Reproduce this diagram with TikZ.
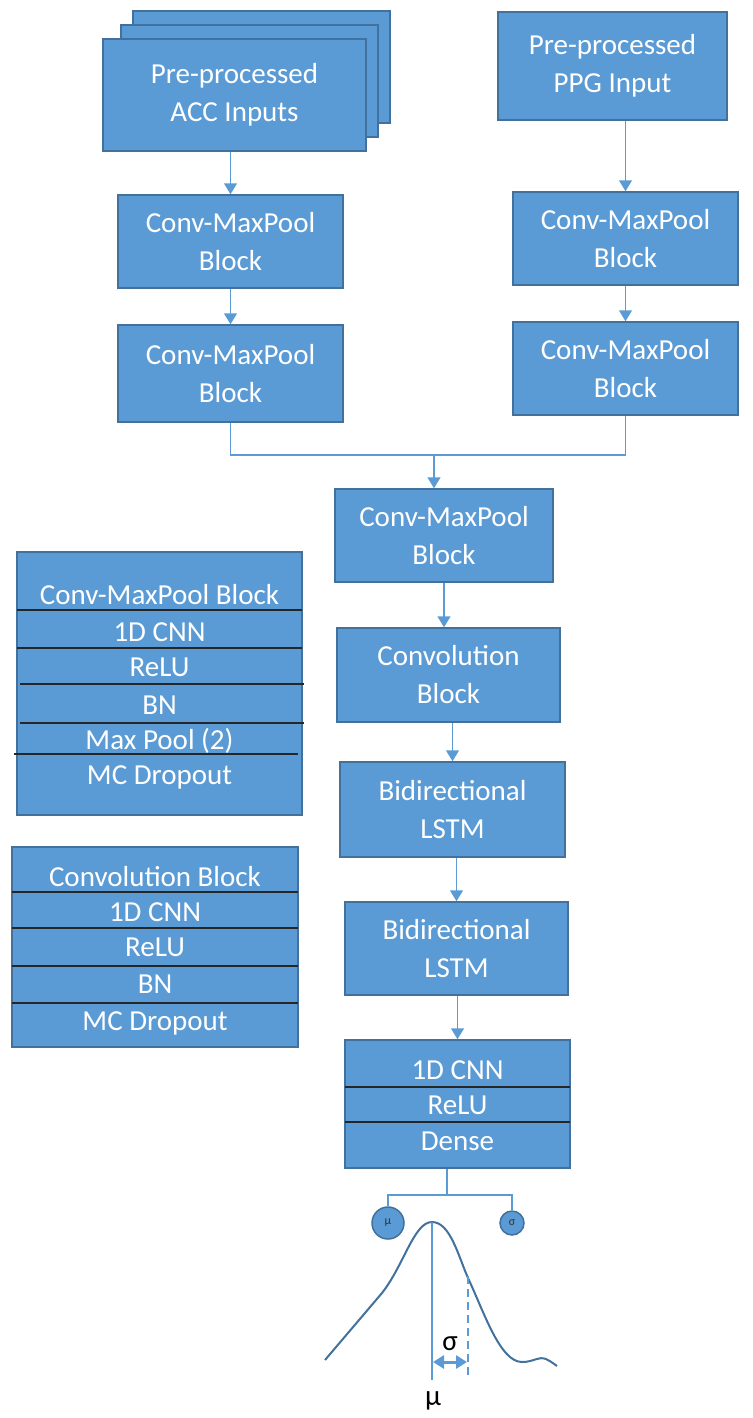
\documentclass[tikz,border=0pt]{standalone}
\usepackage{fontspec}
\setmainfont{Carlito}
\usetikzlibrary{positioning, arrows.meta}

\definecolor{boxblue}{HTML}{5B9BD5}
\definecolor{edgeblue}{HTML}{41719C}

\begin{document}
\begin{tikzpicture}[
            x=1pt, y=-1pt,
            >={Triangle[width=13pt,length=11pt]},
            block/.style={draw=edgeblue, line width=1.5pt, fill=boxblue, text=white, align=center, inner sep=0pt, font=\fontsize{29}{38}\selectfont},
            rowtext/.style={text=white, inner sep=0pt, text height=19pt, text depth=0pt, font=\fontsize{29}{34}\selectfont},
            wire/.style={draw=boxblue, line width=1.5pt},
            flow/.style={wire, ->},
            sep/.style={draw=black!85, line width=1.2pt},
            param/.style={circle, draw=edgeblue, line width=1.5pt, fill=boxblue, inner sep=0pt, text=black!80, font=\fontsize{12}{12}\selectfont}
        ]
        \useasboundingbox (0,0) rectangle (752,1418);

        % ======================================
        % Input branches
        % ======================================
        % ACC: three stacked sheets
        \node[block, minimum width=257pt, minimum height=112pt] (acc3) at (261.5,67) {};
        \node[block, minimum width=257pt, minimum height=112pt] (acc2) at (249.5,81) {};
        \node[block, minimum width=263pt, minimum height=112pt] (acc1) at (234.5,95) {Pre-processed\\ACC Inputs};
        \node[block, minimum width=225pt, minimum height=93pt] (accA) at (230.5,241.5) {Conv-MaxPool\\Block};
        \node[block, minimum width=225pt, minimum height=97pt] (accB) at (230.5,373.5) {Conv-MaxPool\\Block};

        % PPG
        \node[block, minimum width=229pt, minimum height=108pt] (ppg) at (612.5,66) {Pre-processed\\PPG Input};
        \node[block, minimum width=225pt, minimum height=93pt] (ppgA) at (625.5,238.5) {Conv-MaxPool\\Block};
        \node[block, minimum width=225pt, minimum height=93pt] (ppgB) at (625.5,368.5) {Conv-MaxPool\\Block};

        \draw[flow] (accA.north |- acc1.south) -- (accA.north);
        \draw[flow] (accA.south) -- (accA.south |- accB.north);
        \draw[flow] (ppgA.north |- ppg.south) -- (ppgA.north);
        \draw[flow] (ppgB.north |- ppgA.south) -- (ppgB.north);

        % ======================================
        % Shared trunk
        % ======================================
        \node[block, minimum width=218pt, minimum height=93pt] (midA) at (444,535.5) {Conv-MaxPool\\Block};
        \node[block, minimum width=223pt, minimum height=94pt] (midB) at (448.5,675) {Convolution\\Block};
        \node[block, minimum width=225pt, minimum height=95pt] (midC) at (452.5,809.5) {Bidirectional\\LSTM};
        \node[block, minimum width=223pt, minimum height=93pt] (midD) at (456.5,948.5) {Bidirectional\\LSTM};
        \node[block, minimum width=225pt, minimum height=128pt] (outE) at (457.5,1104) {};

        % merge of both branches
        \coordinate (join) at (434,455);
        \draw[wire] (accB.south) |- (join) -| (ppgB.south);
        \draw[flow] (join) -- (join |- midA.north);

        \draw[flow] (midA.south) -- (midA.south |- midB.north);
        \draw[flow] (midC.north |- midB.south) -- (midC.north);
        \draw[flow] (midD.north |- midC.south) -- (midD.north);
        \draw[flow] (outE.north |- midD.south) -- (outE.north);

        % output head rows
        \draw[sep] (345,1087) -- (570,1087);
        \draw[sep] (345,1122) -- (570,1122);
        \foreach \t/\y [count=\i] in {1D CNN/1070, ReLU/1105, Dense/1141}
        \node[rowtext] (out-\i) at (457.5,\y) {\t};

        % ======================================
        % Legend blocks
        % ======================================
        \node[block, minimum width=285pt, minimum height=263pt] (cmpkey) at (159.5,683.5) {};
        \foreach \a/\b/\y in {17/302/610, 17/302/648, 20/304/684, 20/304/723, 14/298/754}
        \draw[sep] (\a,\y) -- (\b,\y);
        \foreach \t/\y [count=\i] in {Conv-MaxPool Block/595, 1D CNN/632, ReLU/667, BN/705, Max Pool (2)/740, MC Dropout/775}
        \node[rowtext] (cmp-\i) at (159.5,\y) {\t};

        \node[block, minimum width=286pt, minimum height=200pt] (convkey) at (155,947) {};
        \foreach \y in {892,928,966,1003}
        \draw[sep] (12,\y) -- (298,\y);
        \foreach \t/\y [count=\i] in {Convolution Block/877, 1D CNN/912, ReLU/947, BN/984, MC Dropout/1021}
        \node[rowtext] (conv-\i) at (155,\y) {\t};

        % ======================================
        % Gaussian output
        % ======================================
        \node[param, minimum size=32pt] (mu) at (388,1223) {μ};
        \node[param, minimum size=24pt] (sigma) at (512,1223) {σ};
        \coordinate (fork) at (447,1195);
        \draw[wire] (outE.south -| fork) -- (fork);
        \draw[wire] (mu.north) |- (fork) -| (sigma.north);

        \coordinate (peak) at (432,1222);
        \draw[edgeblue, line width=2pt, line join=round]
            (325,1360) -- (382,1293)
            .. controls (404,1265) and (414,1222) .. (peak)
            .. controls (450,1222) and (458,1255) .. (468,1278)
            .. controls (484,1312) and (500,1362) .. (522,1362)
            .. controls (534,1362) and (538,1356) .. (546,1359)
            .. controls (550,1361) .. (557,1366);

        \coordinate (mubase) at (432,1380);
        \coordinate (sdtop) at (468,1276);
        \coordinate (sdbase) at (468,1375);
        \draw[wire] (peak) -- (mubase);
        \draw[wire, dashed, dash pattern=on 8pt off 5pt] (sdtop) -- (sdbase);
        \coordinate (spanL) at (433,1362);
        \coordinate (spanR) at (467,1362);
        \draw[boxblue, line width=3pt, {Triangle[width=13pt,length=11pt]}-{Triangle[width=13pt,length=11pt]}] (spanL) -- (spanR);

        \node[font=\fontsize{29}{29}\selectfont, inner sep=0pt] (sdlabel) at (450,1344) {σ};
        \node[font=\fontsize{29}{29}\selectfont, inner sep=0pt] (mulabel) at (433,1401) {μ};

    \end{tikzpicture}
\end{document}
